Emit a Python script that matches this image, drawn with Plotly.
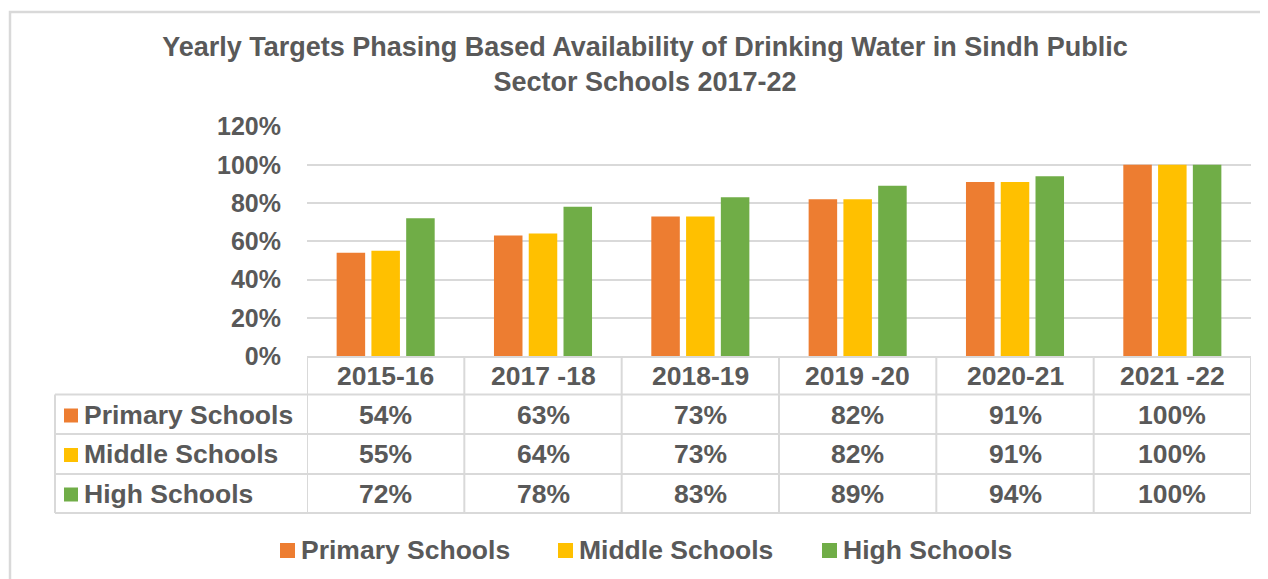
import plotly.graph_objects as go

# ---- data ----
categories = ["2015-16", "2017 -18", "2018-19", "2019 -20", "2020-21", "2021 -22"]
series_names = ["Primary Schools", "Middle Schools", "High Schools"]
primary = [54, 63, 73, 82, 91, 100]
middle = [55, 64, 73, 82, 91, 100]
high = [72, 78, 83, 89, 94, 100]
y_ticks = [0, 20, 40, 60, 80, 100, 120]

series_values = [primary, middle, high]
colors = ["#ED7D31", "#FFC000", "#70AD47"]
TXT = "#595959"
GRID = "#D9D9D9"
FONT = "Liberation Sans, Arial, sans-serif"

W, H = 1268, 579
OFF = 8  # page body margin
def px(x):
    return (x - OFF) / W
def py(y):
    return 1 - (y - OFF) / H

# plot area geometry (screen pixels)
X0, X1 = 307, 1251
Y_ZERO, Y_TOP = 356, 126.5

fig = go.Figure()
for name, vals, col in zip(series_names, series_values, colors):
    fig.add_trace(go.Bar(
        x=list(range(len(categories))), y=vals, name=name,
        marker=dict(color=col, line=dict(width=0)),
        hoverinfo="skip", showlegend=False,
    ))

shapes = []
annotations = []

# outer border
shapes.append(dict(type="rect", xref="paper", yref="paper",
                   x0=px(10), x1=1.05, y0=-0.05, y1=py(12),
                   line=dict(color=GRID, width=2.5), fillcolor="rgba(0,0,0,0)", layer="below"))

# table rows
row_lines = [394.5, 434, 474, 513]
header_center = 375.5
row_centers = [414.5, 454, 493.5]
TL = 55  # table left edge
for yl in row_lines:
    shapes.append(dict(type="line", xref="paper", yref="paper",
                       x0=px(TL), x1=px(X1), y0=py(yl), y1=py(yl),
                       line=dict(color=GRID, width=2)))
shapes.append(dict(type="line", xref="paper", yref="paper",
                   x0=px(TL), x1=px(TL), y0=py(row_lines[0]), y1=py(row_lines[-1]),
                   line=dict(color=GRID, width=2)))
for i in range(len(categories) + 1):
    shapes.append(dict(type="line", xref="x", yref="paper",
                       x0=i - 0.5, x1=i - 0.5, y0=py(Y_ZERO), y1=py(row_lines[-1]),
                       line=dict(color=GRID, width=2)))

TF = dict(family=FONT, size=26.5, color=TXT, weight="bold")
# header labels
for i, c in enumerate(categories):
    annotations.append(dict(xref="x", yref="paper", x=i, y=py(header_center),
                            text=c, showarrow=False, xanchor="center", yanchor="middle",
                            font=TF))
# row labels + values
for r, (name, vals, col) in enumerate(zip(series_names, series_values, colors)):
    yc = row_centers[r]
    shapes.append(dict(type="rect", xref="paper", yref="paper",
                       x0=px(64), x1=px(78), y0=py(yc - 6), y1=py(yc + 8),
                       fillcolor=col, line=dict(width=0)))
    annotations.append(dict(xref="paper", yref="paper", x=px(82), y=py(yc),
                            text=name, showarrow=False, xanchor="left", yanchor="middle",
                            font=TF))
    for i, v in enumerate(vals):
        annotations.append(dict(xref="x", yref="paper", x=i, y=py(yc),
                                text=f"{v}%", showarrow=False, xanchor="center", yanchor="middle",
                                font=TF))

# legend (bottom), drawn as swatches + labels
legend_y = 550
legend_swatch_x = [280, 558, 822]
for name, col, lx in zip(series_names, colors, legend_swatch_x):
    shapes.append(dict(type="rect", xref="paper", yref="paper",
                       x0=px(lx), x1=px(lx + 15), y0=py(legend_y - 7), y1=py(legend_y + 8),
                       fillcolor=col, line=dict(width=0)))
    annotations.append(dict(xref="paper", yref="paper", x=px(lx + 19), y=py(legend_y),
                            text=name, showarrow=False, xanchor="left", yanchor="middle",
                            font=dict(family=FONT, size=26.5, color=TXT, weight="bold")))

fig.update_layout(
    width=W, height=H,
    paper_bgcolor="white", plot_bgcolor="white",
    margin=dict(l=0, r=0, t=0, b=0, pad=0),
    barmode="group", bargap=0.337, bargroupgap=0.18,
    font=dict(family=FONT, color=TXT),
    showlegend=False,
    title=dict(text="Yearly Targets Phasing Based Availability of Drinking Water in Sindh Public<br>Sector Schools 2017-22",
               x=px(645), xanchor="center", xref="paper",
               y=py(56), yanchor="middle", yref="container", automargin=False,
               font=dict(family=FONT, size=27, color=TXT, weight="bold")),
    xaxis=dict(domain=[px(X0), px(X1)], range=[-0.5, len(categories) - 0.5],
               showticklabels=False, showgrid=False, zeroline=False, automargin=False,
               showline=True, linecolor=GRID, linewidth=2, ticks=""),
    yaxis=dict(domain=[py(Y_ZERO), py(Y_TOP)], range=[0, 120], automargin=False,
               tickvals=y_ticks, ticktext=[f"{t}%" for t in y_ticks],
               showgrid=True, gridcolor=GRID, gridwidth=1.5, zeroline=False,
               showline=False, ticks="outside", ticklen=20, tickcolor="rgba(0,0,0,0)",
               tickfont=dict(family=FONT, size=25, color=TXT, weight="bold")),
    shapes=shapes, annotations=annotations,
)

fig.write_html("out.html")
